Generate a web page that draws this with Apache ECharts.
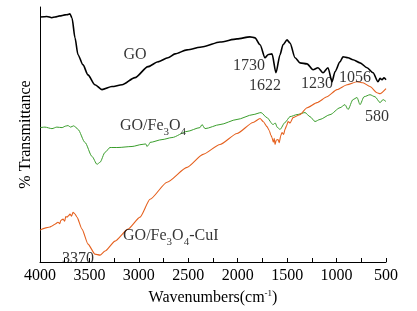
<!DOCTYPE html>
<html>
<head>
<meta charset="utf-8">
<script src="https://cdn.jsdelivr.net/npm/echarts@6.0.0/dist/echarts.min.js"></script>
<style>
  html, body { margin: 0; padding: 0; background: #fff; }
  #chart { width: 417px; height: 311px; }
</style>
</head>
<body>
<div id="chart"></div>
<script>
/* ---------- data (wavenumber, transmittance a.u.) ---------- */
var xTicks = [4000, 3500, 3000, 2500, 2000, 1500, 1000, 500];

// GO (black)
var goWn = [4000, 3930, 3880, 3848, 3800, 3747, 3720, 3697, 3676, 3646, 3616, 3565, 3515, 3444, 3373, 3272, 3170, 3039, 2907, 2806, 2705, 2634, 2513, 2351, 2179, 2007, 1876, 1825, 1774, 1724, 1694, 1653, 1613, 1572, 1542, 1501, 1471, 1420, 1370, 1299, 1238, 1188, 1137, 1087, 1046, 1016, 965, 935, 884, 834, 763, 692, 631, 581, 560, 540, 520, 500];
var goT  = [96.1, 96.3, 95.8, 96.1, 96.5, 96.9, 97.0, 97.3, 95.7, 87.9, 81.3, 77.3, 73.4, 69.5, 67.6, 68.8, 69.5, 72.3, 76.6, 78.5, 80.1, 81.6, 83.2, 84.4, 86.3, 87.5, 88.3, 87.9, 85.2, 80.1, 81.3, 81.6, 74.2, 81.3, 85.2, 87.1, 85.9, 80.1, 78.1, 77.7, 75.4, 76.2, 74.2, 76.2, 70.7, 74.6, 78.5, 80.5, 80.1, 79.3, 78.1, 76.2, 74.2, 70.7, 72.0, 71.5, 72.2, 71.5];

// GO/Fe3O4 (green)
var feWn = [4000, 3950, 3879, 3830, 3777, 3740, 3717, 3690, 3660, 3646, 3616, 3545, 3474, 3423, 3393, 3342, 3292, 3211, 3069, 2968, 2930, 2918, 2900, 2887, 2766, 2665, 2513, 2382, 2361, 2331, 2179, 2007, 1845, 1764, 1704, 1643, 1620, 1600, 1572, 1522, 1471, 1400, 1319, 1269, 1218, 1168, 1066, 965, 915, 884, 834, 793, 763, 722, 662, 611, 560, 530, 500];
var feT  = [52.7, 52.9, 52.3, 52.9, 52.7, 53.3, 53.5, 52.9, 53.4, 53.1, 52.0, 46.9, 41.4, 38.3, 39.1, 43.0, 44.9, 44.9, 45.3, 46.1, 46.3, 45.3, 46.0, 46.9, 48.0, 48.8, 51.2, 52.7, 53.9, 52.3, 53.9, 55.9, 57.8, 58.6, 56.6, 53.9, 54.5, 52.8, 52.0, 54.7, 57.0, 57.8, 58.6, 57.0, 55.1, 55.9, 57.8, 60.5, 61.7, 59.8, 63.7, 64.5, 61.7, 64.8, 65.6, 64.8, 62.5, 63.7, 62.9];

// GO/Fe3O4-CuI (orange)
var cuWn = [4000, 3950, 3900, 3879, 3850, 3818, 3800, 3790, 3767, 3750, 3740, 3727, 3710, 3697, 3680, 3666, 3646, 3626, 3575, 3514, 3444, 3393, 3342, 3241, 3110, 2988, 2887, 2715, 2513, 2351, 2179, 2007, 1845, 1774, 1740, 1704, 1680, 1665, 1653, 1640, 1630, 1623, 1610, 1592, 1580, 1565, 1552, 1535, 1522, 1505, 1491, 1470, 1441, 1370, 1299, 1198, 1097, 996, 894, 793, 733, 662, 591, 560, 500];
var cuT  = [12.5, 13.3, 13.7, 14.1, 14.8, 15.6, 15.0, 16.3, 16.8, 16.0, 17.8, 17.6, 18.2, 18.8, 18.0, 19.5, 18.8, 17.6, 12.9, 7.0, 3.1, 2.7, 4.3, 8.2, 12.9, 17.6, 24.6, 31.3, 37.1, 42.2, 46.1, 50.4, 54.7, 56.3, 55.0, 53.1, 51.5, 49.8, 48.8, 47.0, 48.5, 46.1, 47.8, 48.0, 46.8, 49.5, 50.8, 50.0, 52.0, 53.5, 55.1, 54.5, 56.6, 57.8, 60.5, 62.5, 64.8, 67.6, 69.5, 70.7, 70.3, 68.8, 66.4, 66.0, 68.0];

// annotations
var noteText  = ['GO', '1730', '1622', '1230', '1056', '580', '3370', '{t|GO/Fe}{s|3}{t|O}{s|4}', '{t|GO/Fe}{s|3}{t|O}{s|4}{t|-CuI}'];
var noteWn    = [3039, 1886, 1724, 1198, 813, 591, 3616, 3191, 3160];
var noteT     = [81.2, 77.0, 69.1, 69.9, 72.3, 57.0, 1.2, 53.1, 9.8];
var noteLeft  = [false, false, false, false, false, false, false, true, true];

/* ---------- helpers ---------- */
function zip(a, b) {
	var out = [];
	for (var i = 0; i < a.length; i++) out.push([a[i], b[i]]);
	return out;
}

var FONT = "'Liberation Serif', 'Times New Roman', serif";
var richSub = {
	t: { fontSize: 16, fontFamily: FONT, color: '#000', lineHeight: 18, verticalAlign: 'top' },
	s: { fontSize: 11, fontFamily: FONT, color: '#000', lineHeight: 11, verticalAlign: 'top', padding: [9, 0, 0, 0] }
};

var noteData = [];
for (var i = 0; i < noteText.length; i++) {
	noteData.push({
		value: [noteWn[i], noteT[i]],
		label: {
			show: true,
			position: noteLeft[i] ? 'right' : 'inside',
			distance: 0,
			formatter: noteText[i],
			fontSize: 16,
			fontFamily: FONT,
			color: '#000',
			rich: richSub
		}
	});
}

var chart = echarts.init(document.getElementById('chart'), null, { renderer: 'canvas' });
chart.setOption({
	animation: false,
	backgroundColor: '#fff',
	grid: { left: 40, right: 31, top: 7, bottom: 48 },
	xAxis: {
		type: 'value',
		inverse: true,
		min: 500,
		max: 4000,
		interval: 500,
		name: '{n|Wavenumbers(cm}{p|-1}{n|)}',
		nameLocation: 'middle',
		nameGap: 27,
		nameTextStyle: {
			rich: {
				n: { fontSize: 16, fontFamily: FONT, color: '#000', lineHeight: 18 },
				p: { fontSize: 9, fontFamily: FONT, color: '#000', lineHeight: 9, verticalAlign: 'top', padding: [0, 0, 8, 0] }
			}
		},
		axisLine: { show: true, onZero: false, lineStyle: { color: '#000', width: 1 } },
		axisTick: { show: true, inside: true, length: 4, lineStyle: { color: '#000' } },
		minorTick: { show: true, splitNumber: 2, length: 4, lineStyle: { color: '#000' } },
		axisLabel: {
			fontSize: 16, fontFamily: FONT, color: '#000', margin: 6,
			formatter: function (v) { return xTicks.indexOf(v) >= 0 ? String(v) : ''; }
		},
		splitLine: { show: false }
	},
	yAxis: {
		type: 'value',
		min: 0,
		max: 100,
		name: '% Transmittance',
		nameLocation: 'middle',
		nameGap: 6,
		nameTextStyle: { fontSize: 16, fontFamily: FONT, color: '#000' },
		axisLine: { show: true, lineStyle: { color: '#000', width: 1 } },
		axisTick: { show: false },
		axisLabel: { show: false },
		splitLine: { show: false }
	},
	series: [
		{
			name: 'GO', type: 'line', data: zip(goWn, goT), showSymbol: false,
			smooth: 0.25, smoothMonotone: 'x',
			lineStyle: { color: '#000', width: 1.6 }, z: 3
		},
		{
			name: 'GO/Fe3O4', type: 'line', data: zip(feWn, feT), showSymbol: false,
			smooth: 0.25, smoothMonotone: 'x',
			lineStyle: { color: '#3a9e2c', width: 1 }, z: 2
		},
		{
			name: 'GO/Fe3O4-CuI', type: 'line', data: zip(cuWn, cuT), showSymbol: false,
			smooth: 0.2, smoothMonotone: 'x',
			lineStyle: { color: '#e5601e', width: 1.1 }, z: 2
		},
		{
			name: 'notes', type: 'scatter', symbolSize: 0, data: noteData,
			silent: true, z: 5
		}
	]
});
</script>
</body>
</html>
